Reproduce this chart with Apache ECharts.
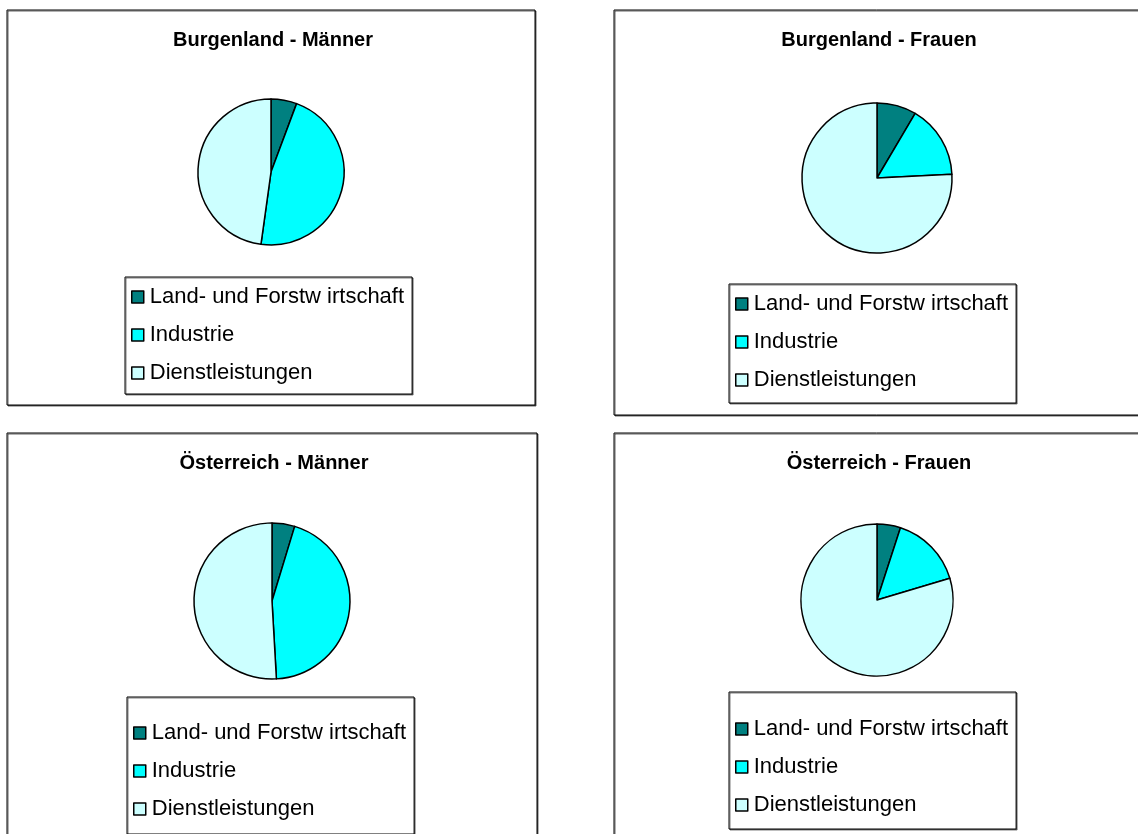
<!DOCTYPE html>
<html>
<head>
<meta charset="utf-8">
<title>Erwerbstätige nach Sektoren</title>
<script src="https://cdn.jsdelivr.net/npm/echarts@6/dist/echarts.min.js"></script>
<style>
  html, body { margin: 0; padding: 0; background: #fff; }
  #chart { width: 1138px; height: 834px; }
</style>
</head>
<body>
<div id="chart"></div>
<script>
// Sektoren (Legende)
const categories = ['Land- und Forstw irtschaft', 'Industrie', 'Dienstleistungen']
// Anteile in %, aus dem Bild geschätzt
const burgenlandMaenner = [5.7, 46.5, 47.8]
const burgenlandFrauen = [8.5, 15.7, 75.8]
const oesterreichMaenner = [4.7, 44.4, 50.9]
const oesterreichFrauen = [5.0, 15.4, 79.6]

const titles = ['Burgenland - Männer', 'Burgenland - Frauen', 'Österreich - Männer', 'Österreich - Frauen']
const colors = ['#008080', '#00FFFF', '#CCFFFF']

const panels = [
  { data: burgenlandMaenner, box: [7, 10, 528, 395], center: [271, 172], r: 73, legend: [125, 277], pad: [9, 8, 10, 6] },
  { data: burgenlandFrauen, box: [614, 10, 540, 405], center: [877, 178], r: 75, legend: [729, 284], pad: [9, 8, 12, 6] },
  { data: oesterreichMaenner, box: [7, 433, 530, 420], center: [272, 601], r: 78, legend: [127, 697], pad: [25, 8, 14, 6] },
  { data: oesterreichFrauen, box: [614, 433, 540, 420], center: [877, 600], r: 76, legend: [729, 692], pad: [26, 8, 13, 6] }
]

const chart = echarts.init(document.getElementById('chart'))

const font = 'Arial, "Liberation Sans", sans-serif'

chart.setOption({
  animation: false,
  graphic: panels.map(p => ({
    type: 'rect',
    silent: true,
    z: -1,
    shape: { x: p.box[0], y: p.box[1], width: p.box[2], height: p.box[3] },
    style: { fill: '#fff', stroke: '#000', lineWidth: 1, shadowColor: 'rgba(0,0,0,0.6)', shadowOffsetX: 1, shadowOffsetY: 1 }
  })),
  title: panels.map((p, i) => ({
    text: titles[i],
    left: p.center[0] - 3,
    top: p.box[1] + 15,
    textAlign: 'center',
    textStyle: { fontFamily: font, fontSize: 20, fontWeight: 'bold', color: '#000' }
  })),
  legend: panels.map((p, i) => ({
    orient: 'vertical',
    left: p.legend[0],
    top: p.legend[1],
    data: categories,
    icon: 'rect',
    itemWidth: 12,
    itemHeight: 12,
    itemGap: 16,
    padding: p.pad,
    borderColor: '#000',
    borderWidth: 1,
    backgroundColor: '#fff',
    shadowColor: 'rgba(0,0,0,0.5)',
    shadowOffsetX: 1,
    shadowOffsetY: 1,
    selectedMode: false,
    itemStyle: { borderColor: '#000', borderWidth: 1.5 },
    textStyle: { fontFamily: font, fontSize: 22, lineHeight: 22, color: '#000', padding: [0, 0, 0, 1] }
  })),
  series: panels.map((p, i) => ({
    type: 'pie',
    name: titles[i],
    center: p.center,
    radius: [0, p.r],
    startAngle: 90,
    clockwise: true,
    silent: true,
    label: { show: false },
    labelLine: { show: false },
    itemStyle: { borderColor: '#000', borderWidth: 1.5 },
    data: categories.map((c, k) => ({ name: c, value: p.data[k], itemStyle: { color: colors[k] } }))
  }))
})
</script>
</body>
</html>
